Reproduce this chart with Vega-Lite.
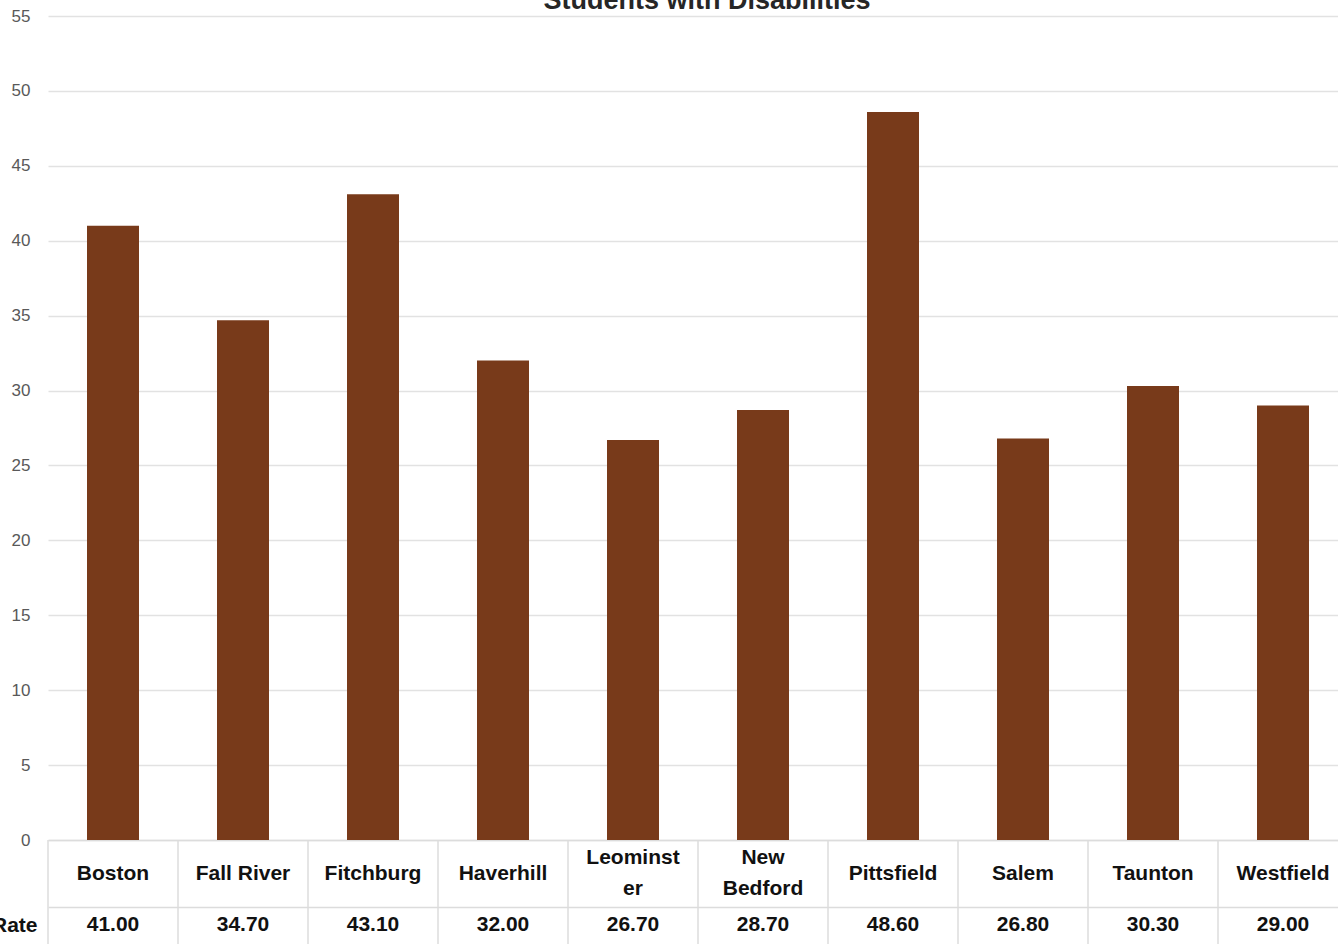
{
  "$schema": "https://vega.github.io/schema/vega-lite/v6.json",
  "width": 1300,
  "height": 928,
  "autosize": {"type": "none"},
  "padding": {"left": 48, "top": 16, "right": 0, "bottom": 0},
  "background": "white",
  "config": {"view": {"stroke": null}},
  "title": {
    "text": "Students with Disabilities",
    "font": "Liberation Sans",
    "fontSize": 27,
    "fontWeight": "bold",
    "color": "#262626",
    "offset": -8,
    "dx": 9
  },
  "data": {
    "values": [
      {"city": "Boston", "label": "Boston", "rate": 41.0},
      {"city": "Fall River", "label": "Fall River", "rate": 34.7},
      {"city": "Fitchburg", "label": "Fitchburg", "rate": 43.1},
      {"city": "Haverhill", "label": "Haverhill", "rate": 32.0},
      {"city": "Leominster", "label": "Leominst\ner", "rate": 26.7},
      {"city": "New Bedford", "label": "New\nBedford", "rate": 28.7},
      {"city": "Pittsfield", "label": "Pittsfield", "rate": 48.6},
      {"city": "Salem", "label": "Salem", "rate": 26.8},
      {"city": "Taunton", "label": "Taunton", "rate": 30.3},
      {"city": "Westfield", "label": "Westfield", "rate": 29.0}
    ]
  },
  "encoding": {
    "x": {
      "field": "city",
      "type": "nominal",
      "sort": null,
      "scale": {"paddingInner": 0, "paddingOuter": 0},
      "axis": null
    }
  },
  "layer": [
    {
      "mark": {"type": "bar", "width": {"band": 0.4}, "color": "#783A1A"},
      "encoding": {
        "y": {
          "field": "rate",
          "type": "quantitative",
          "scale": {"domain": [0, 55], "nice": false, "range": [824, 0]},
          "axis": {
            "orient": "left",
            "title": null,
            "values": [0, 5, 10, 15, 20, 25, 30, 35, 40, 45, 50, 55],
            "grid": true,
            "gridColor": "#e2e2e2",
            "gridWidth": 1.5,
            "ticks": false,
            "domain": false,
            "labelFont": "Liberation Sans",
            "labelFontSize": 17,
            "labelColor": "#595959",
            "labelPadding": 18
          }
        }
      }
    },
    {
      "layer": [
        {
          "mark": {"type": "rule", "color": "#dcdcdc", "strokeWidth": 1.5},
          "encoding": {
            "x": {"field": "city", "type": "nominal", "sort": null, "bandPosition": 0},
            "y": {
              "datum": "City",
              "type": "nominal",
              "bandPosition": 0,
              "scale": {"type": "band", "domain": ["City", "Rate", "End"], "range": [824, 1025], "paddingInner": 0, "paddingOuter": 0},
              "axis": {
                "orient": "left",
                "title": null,
                "grid": true,
                "gridColor": "#dcdcdc",
                "gridWidth": 1.5,
                "bandPosition": 0,
                "ticks": false,
                "domain": false,
                "labelExpr": "datum.value == 'Rate' ? 'Rate' : ''",
                "labelOffset": -15,
                "labelPadding": 11,
                "labelFont": "Liberation Sans",
                "labelFontWeight": "bold",
                "labelFontSize": 21,
                "labelColor": "#111111"
              }
            },
            "y2": {"datum": "End"}
          }
        },
        {
          "transform": [{"filter": "indexof(datum.label, '\\n') < 0"}],
          "mark": {"type": "text", "font": "Liberation Sans", "fontWeight": "bold", "fontSize": 21, "color": "#111111", "baseline": "middle"},
          "encoding": {
            "y": {"datum": "City", "type": "nominal", "bandPosition": 0.5},
            "text": {"field": "label"}
          }
        },
        {
          "transform": [{"filter": "indexof(datum.label, '\\n') >= 0"}],
          "mark": {"type": "text", "font": "Liberation Sans", "fontWeight": "bold", "fontSize": 21, "color": "#111111", "lineBreak": "\n", "lineHeight": 31, "baseline": "middle", "dy": -15.5},
          "encoding": {
            "y": {"datum": "City", "type": "nominal", "bandPosition": 0.5},
            "text": {"field": "label"}
          }
        },
        {
          "mark": {"type": "text", "font": "Liberation Sans", "fontWeight": "bold", "fontSize": 21, "color": "#111111", "baseline": "middle"},
          "encoding": {
            "y": {"datum": "Rate", "type": "nominal", "bandPosition": 0.27},
            "text": {"field": "rate", "type": "quantitative", "format": ".2f"}
          }
        }
      ]
    }
  ],
  "resolve": {"scale": {"y": "independent"}, "axis": {"y": "independent"}}
}
